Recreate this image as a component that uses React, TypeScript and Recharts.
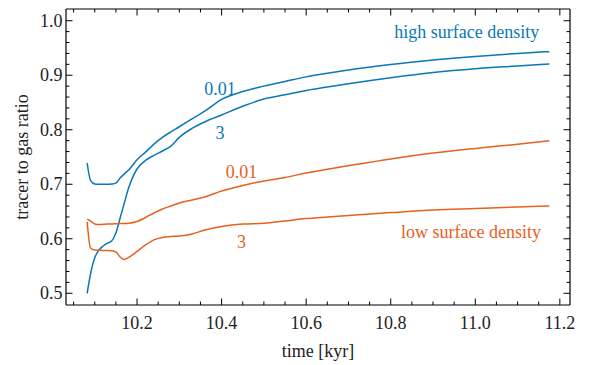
import {
  Line,
  LineChart,
  ReferenceDot,
  XAxis,
  YAxis,
} from "recharts";

const BLUE = "#0a78b8";
const ORANGE = "#e8601c";
const FONT = "'Liberation Serif', 'Times New Roman', serif";

// time [kyr]
const TIME = [
  10.082, 10.09, 10.1, 10.11, 10.12, 10.13, 10.14, 10.15, 10.16, 10.17, 10.18,
  10.2, 10.22, 10.24, 10.26, 10.28, 10.3, 10.33, 10.36, 10.4, 10.45, 10.5,
  10.55, 10.6, 10.65, 10.7, 10.8, 10.9, 11.0, 11.1, 11.175,
];

// high surface density, 0.01
const HIGH_001 = [
  0.739, 0.707, 0.7005, 0.7, 0.7, 0.7, 0.7005, 0.702, 0.7116, 0.719, 0.726,
  0.745, 0.759, 0.7735, 0.786, 0.796, 0.8055, 0.82, 0.834, 0.8556, 0.87, 0.88,
  0.8886, 0.897, 0.9035, 0.9095, 0.9195, 0.928, 0.9345, 0.94, 0.9433,
];

// high surface density, 3
const HIGH_3 = [
  0.5, 0.5354, 0.565, 0.5795, 0.5868, 0.592, 0.596, 0.6106, 0.638, 0.6657,
  0.693, 0.728, 0.7437, 0.753, 0.761, 0.77, 0.786, 0.8024, 0.8143, 0.827,
  0.843, 0.8565, 0.864, 0.872, 0.8785, 0.8845, 0.8955, 0.905, 0.912, 0.917,
  0.9207,
];

// low surface density, 0.01
const LOW_001 = [
  0.636, 0.6327, 0.627, 0.626, 0.6266, 0.627, 0.627, 0.6277, 0.628, 0.628,
  0.6284, 0.6317, 0.639, 0.6473, 0.6547, 0.66, 0.6657, 0.671, 0.6767, 0.6877,
  0.6978, 0.706, 0.7125, 0.7205, 0.7275, 0.734, 0.7465, 0.7572, 0.7658, 0.7735,
  0.78,
];

// low surface density, 3
const LOW_3 = [
  0.631, 0.583, 0.5795, 0.579, 0.5785, 0.5785, 0.578, 0.5758, 0.5666, 0.562,
  0.5657, 0.5767, 0.5886, 0.598, 0.6024, 0.604, 0.605, 0.6088, 0.6161, 0.6226,
  0.627, 0.6284, 0.6327, 0.637, 0.64, 0.6428, 0.648, 0.6528, 0.6556, 0.6583,
  0.66,
];

const X_MAJOR = [10.2, 10.4, 10.6, 10.8, 11.0, 11.2];
const Y_MAJOR = [0.5, 0.6, 0.7, 0.8, 0.9, 1.0];

const X_DOMAIN = [10.032, 11.224];
const Y_DOMAIN = [0.4785, 1.0215];

// minor ticks: x every 0.05, y every 0.02
const range = (start: number, stop: number, step: number) =>
  Array.from(
    { length: Math.round((stop - start) / step) + 1 },
    (_, i) => +(start + i * step).toFixed(3)
  );
const X_TICKS = range(10.05, 11.2, 0.05);
const Y_TICKS = range(0.5, 1.0, 0.02);

const isMajor = (v: number, majors: number[]) =>
  majors.some((m) => Math.abs(m - v) < 1e-6);

const data = TIME.map((t, i) => ({
  t,
  high001: HIGH_001[i],
  high3: HIGH_3[i],
  low001: LOW_001[i],
  low3: LOW_3[i],
}));

const MAJOR_LEN = 6.5;
const MINOR_LEN = 3.5;

function BottomTick({ x, y, payload }: any) {
  const major = isMajor(payload.value, X_MAJOR);
  return (
    <g>
      <line x1={x} x2={x} y1={y} y2={y - (major ? MAJOR_LEN : MINOR_LEN)} stroke="#000" />
      {major && (
        <text x={x} y={y + 17.5} textAnchor="middle" dominantBaseline="central"
          fontFamily={FONT} fontSize={18} fill="#222">
          {payload.value.toFixed(1)}
        </text>
      )}
    </g>
  );
}

function TopTick({ x, y, payload }: any) {
  const major = isMajor(payload.value, X_MAJOR);
  return <line x1={x} x2={x} y1={y} y2={y + (major ? MAJOR_LEN : MINOR_LEN)} stroke="#000" />;
}

function LeftTick({ x, y, payload }: any) {
  const major = isMajor(payload.value, Y_MAJOR);
  return (
    <g>
      <line x1={x} x2={x + (major ? MAJOR_LEN : MINOR_LEN)} y1={y} y2={y} stroke="#000" />
      {major && (
        <text x={x - 3.5} y={y} textAnchor="end" dominantBaseline="central"
          fontFamily={FONT} fontSize={18} fill="#222">
          {payload.value.toFixed(1)}
        </text>
      )}
    </g>
  );
}

function RightTick({ x, y, payload }: any) {
  const major = isMajor(payload.value, Y_MAJOR);
  return <line x1={x} x2={x - (major ? MAJOR_LEN : MINOR_LEN)} y1={y} y2={y} stroke="#000" />;
}

function XTitle({ viewBox }: any) {
  const cx = viewBox.x + viewBox.width / 2;
  return (
    <text x={cx} y={viewBox.y + 46} textAnchor="middle" dominantBaseline="central"
      fontFamily={FONT} fontSize={18} fill="#222">
      time [kyr]
    </text>
  );
}

function YTitle({ viewBox }: any) {
  const cx = viewBox.x + 16;
  const cy = viewBox.y + viewBox.height / 2;
  return (
    <text x={cx} y={cy} transform={`rotate(-90 ${cx} ${cy})`} textAnchor="middle"
      dominantBaseline="central" fontFamily={FONT} fontSize={18} fill="#222">
      tracer to gas ratio
    </text>
  );
}

const note = (text: string, color: string) => (props: any) => (
  <text x={props.cx} y={props.cy} textAnchor="middle" dominantBaseline="central"
    fontFamily={FONT} fontSize={18} fill={color}>
    {text}
  </text>
);

export default function App() {
  return (
    <div style={{ position: "absolute", left: 0, top: 0, background: "#fff" }}>
      <LineChart
        width={590}
        height={365}
        data={data}
        margin={{ top: 4, right: 10, bottom: 30, left: 6 }}
      >
        <XAxis
          dataKey="t"
          type="number"
          domain={X_DOMAIN}
          allowDataOverflow
          ticks={X_TICKS}
          interval={0}
          height={30}
          tickSize={0}
          tickMargin={0}
          tickLine={false}
          axisLine={{ stroke: "#000", strokeWidth: 1.2 }}
          tick={<BottomTick />}
          label={<XTitle />}
        />
        <XAxis
          xAxisId="top"
          orientation="top"
          dataKey="t"
          type="number"
          domain={X_DOMAIN}
          allowDataOverflow
          ticks={X_TICKS}
          interval={0}
          height={5}
          tickSize={0}
          tickMargin={0}
          tickLine={false}
          axisLine={{ stroke: "#000", strokeWidth: 1.2 }}
          tick={<TopTick />}
        />
        <YAxis
          type="number"
          domain={Y_DOMAIN}
          allowDataOverflow
          ticks={Y_TICKS}
          interval={0}
          width={60}
          tickSize={0}
          tickMargin={0}
          tickLine={false}
          axisLine={{ stroke: "#000", strokeWidth: 1.2 }}
          tick={<LeftTick />}
          label={<YTitle />}
        />
        <YAxis
          yAxisId="right"
          orientation="right"
          type="number"
          domain={Y_DOMAIN}
          allowDataOverflow
          ticks={Y_TICKS}
          interval={0}
          width={10}
          tickSize={0}
          tickMargin={0}
          tickLine={false}
          axisLine={{ stroke: "#000", strokeWidth: 1.2 }}
          tick={<RightTick />}
        />
        <Line dataKey="high001" type="monotone" stroke={BLUE} strokeWidth={1.5} dot={false} isAnimationActive={false} />
        <Line dataKey="high3" type="monotone" stroke={BLUE} strokeWidth={1.5} dot={false} isAnimationActive={false} />
        <Line dataKey="low001" type="monotone" stroke={ORANGE} strokeWidth={1.5} dot={false} isAnimationActive={false} />
        <Line dataKey="low3" type="monotone" stroke={ORANGE} strokeWidth={1.5} dot={false} isAnimationActive={false} />
        <ReferenceDot x={10.98} y={0.9794} r={0} shape={note("high surface density", BLUE)} />
        <ReferenceDot x={10.99} y={0.6125} r={0} shape={note("low surface density", ORANGE)} />
        <ReferenceDot x={10.396} y={0.875} r={0} shape={note("0.01", BLUE)} />
        <ReferenceDot x={10.396} y={0.794} r={0} shape={note("3", BLUE)} />
        <ReferenceDot x={10.447} y={0.7226} r={0} shape={note("0.01", ORANGE)} />
        <ReferenceDot x={10.447} y={0.594} r={0} shape={note("3", ORANGE)} />
      </LineChart>
    </div>
  );
}
